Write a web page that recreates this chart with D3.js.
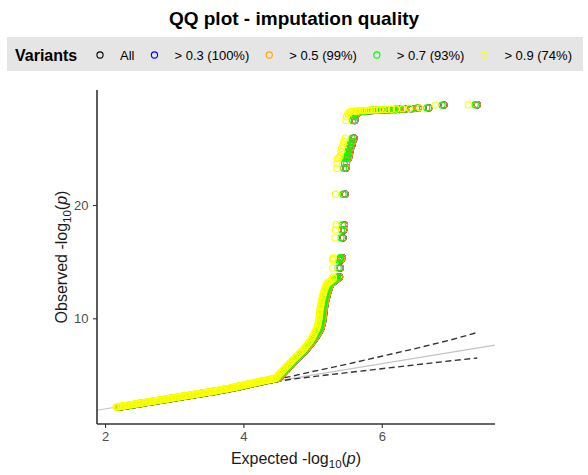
<!DOCTYPE html>
<html>
<head>
<meta charset="utf-8">
<script src="https://cdn.jsdelivr.net/npm/d3@7"></script>
<style>
  body { margin: 0; background: #fff; }
  svg { display: block; font-family: "Liberation Sans", Arial, Helvetica, sans-serif; }
</style>
</head>
<body>
<svg id="chart" width="588" height="475"></svg>
<script>
// Observed -log10(p), ascending (shared rank order for every filtered set)
const observed = [
  2.16,2.18,2.20,2.22,2.24,2.26,2.28,2.30,2.32,2.34,2.36,2.38,2.40,2.42,2.44,2.46,2.48,2.50,2.52,2.54,2.56,2.58,
  2.60,2.62,2.64,2.66,2.68,2.70,2.72,2.74,2.76,2.78,2.80,2.82,2.84,2.86,2.88,2.90,2.92,2.94,2.96,2.98,3.00,
  3.02,3.04,3.06,3.08,3.10,3.12,3.14,3.16,3.18,3.20,3.22,3.24,3.26,3.28,3.30,3.32,3.34,3.36,3.38,3.40,3.42,3.44,3.46,3.48,3.50,
  3.52,3.54,3.56,3.58,3.60,3.62,3.64,3.66,3.68,3.70,3.72,3.74,3.76,3.78,3.80,
  3.82,3.84,3.86,3.88,3.90,3.92,3.94,3.96,3.98,4.00,
  4.02,4.04,4.06,4.08,4.10, 4.12,4.14,4.16,4.18,4.20,
  4.22,4.24,4.26,4.28,4.30,4.32,4.34,4.36, 4.38,4.40,4.42,4.44,4.46,4.48,4.50,
  4.52,4.54,4.56,4.58,4.60, 4.62,4.64,4.66,4.68,4.70,
  4.80,4.89,5.01,5.13,5.25,5.36,5.48,5.60,5.72,5.84,5.95,6.06,6.18,6.30,6.42,6.54,6.66,6.78,6.90,7.02,
  7.14,7.26,7.38,7.50,7.65,7.80,7.92,8.05,8.20,8.35,8.50,8.65,8.80,8.95,9.10,9.25,9.40,9.55,9.70,9.85,
  10.00,10.15,10.30,10.45,10.60,10.75,10.90,11.05,11.20,11.35,11.50,11.65,11.80,11.95,12.10,12.25,12.40,
  12.55,12.70,12.85,12.98,13.10,13.15,13.20,13.30,13.40,13.50,
  13.65,14.45,15.15,15.25,15.35,17.10,17.80,18.25,20.95,23.25,23.70,24.10,24.15,24.35,24.70,25.00,25.30,
  25.60,25.90,27.45,27.80,28.05,28.18,28.22,28.25,28.27,28.28,28.29,28.30,28.31,28.32,28.33,28.34,28.35,
  28.36,28.37,28.38,28.39,28.40,28.41,28.42,28.43,28.45,28.47,28.50,28.55,28.58,28.82,28.85
];

// Expected -log10(p) for all variants (the >0.3 and >0.5 sets keep ~all of them and sit on the same quantiles)
const expectedAll = [
  2.20,2.22,2.24,2.26,2.28,2.30,2.32,2.34,2.36,2.38,2.40,2.42,2.44,2.46,2.48,2.50,2.52,2.54,2.56,2.58,2.60,2.62,
  2.64,2.66,2.68,2.70,2.72,2.74,2.76,2.78,2.80,2.82,2.84,2.86,2.88,2.90,2.92,2.94,2.96,2.98,3.00,3.02,3.04,
  3.06,3.08,3.10,3.12,3.14,3.16,3.18,3.20,3.22,3.24,3.26,3.28,3.30,3.32,3.34,3.36,3.38,3.40,3.42,3.44,3.46,3.48,3.50,3.52,3.54,
  3.56,3.58,3.59,3.61,3.63,3.65,3.67,3.68,3.70,3.72,3.74,3.76,3.77,3.79,3.81,
  3.83,3.84,3.86,3.87,3.89,3.91,3.92,3.94,3.95,3.97,
  3.98,4.00,4.01,4.03,4.04, 4.05,4.07,4.08,4.10,4.11,
  4.13,4.14,4.16,4.17,4.19,4.20,4.22,4.23, 4.25,4.26,4.28,4.29,4.31,4.32,4.34,
  4.36,4.37,4.39,4.40,4.42, 4.44,4.46,4.47,4.49,4.51,
  4.520,4.535,4.550,4.570,4.590,4.605,4.625,4.640,4.660,4.680,4.700,4.715,4.730,4.750,4.770,4.790,4.810,4.830,4.850,4.870,
  4.890,4.910,4.925,4.940,4.960,4.980,4.995,5.010,5.030,5.050,5.064,5.078,5.093,5.107,5.120,5.127,5.133,5.140,5.145,5.150,
  5.153,5.156,5.159,5.162,5.164,5.166,5.170,5.175,5.180,5.184,5.188,5.192,5.200,5.207,5.212,5.218,5.226,
  5.234,5.243,5.252,5.262,5.270,5.285,5.300,5.320,5.340,5.360,
  5.39,5.40,5.41,5.42,5.43,5.44,5.45,5.46,5.47,5.48,5.49,5.50,5.52,5.53,5.54,5.55,5.57,
  5.58,5.60,5.61,5.62,5.64,5.66,5.67,5.69,5.71,5.73,5.75,5.77,5.79,5.81,5.84,5.86,5.89,
  5.92,5.95,5.98,6.02,6.06,6.10,6.15,6.20,6.27,6.34,6.43,6.53,6.68,6.90,7.38
];

// Expected -log10(p) for info > 0.7
const expected07 = [
  2.18,2.20,2.22,2.24,2.26,2.28,2.30,2.32,2.34,2.36,2.38,2.40,2.42,2.44,2.46,2.48,2.50,2.52,2.54,2.56,2.58,2.60,
  2.62,2.64,2.66,2.68,2.70,2.72,2.74,2.76,2.78,2.80,2.82,2.84,2.86,2.88,2.90,2.92,2.94,2.96,2.98,3.00,3.02,
  3.04,3.06,3.08,3.10,3.12,3.14,3.16,3.18,3.20,3.22,3.24,3.26,3.28,3.30,3.32,3.34,3.36,3.38,3.40,3.42,3.44,3.46,3.48,3.50,3.52,
  3.54,3.56,3.57,3.59,3.61,3.63,3.65,3.66,3.68,3.70,3.72,3.74,3.75,3.77,3.79,
  3.81,3.82,3.84,3.85,3.87,3.89,3.90,3.92,3.93,3.95,
  3.96,3.98,3.99,4.01,4.02, 4.03,4.05,4.06,4.08,4.09,
  4.11,4.12,4.14,4.15,4.17,4.18,4.20,4.21, 4.23,4.24,4.26,4.27,4.29,4.30,4.32,
  4.34,4.35,4.37,4.38,4.40, 4.42,4.44,4.45,4.47,4.49,
  4.495,4.510,4.525,4.545,4.565,4.580,4.600,4.615,4.635,4.655,4.675,4.690,4.705,4.725,4.745,4.765,4.785,4.805,4.825,4.845,
  4.865,4.885,4.900,4.915,4.935,4.955,4.970,4.985,5.005,5.025,5.039,5.053,5.068,5.082,5.095,5.102,5.108,5.115,5.120,5.125,
  5.128,5.131,5.134,5.137,5.139,5.141,5.145,5.150,5.155,5.159,5.163,5.167,5.175,5.182,5.187,5.193,5.201,
  5.209,5.218,5.227,5.237,5.245,5.260,5.275,5.295,5.315,5.335,
  5.36,5.37,5.38,5.39,5.40,5.41,5.42,5.43,5.44,5.45,5.46,5.47,5.49,5.50,5.51,5.52,5.54,
  5.55,5.57,5.58,5.59,5.61,5.63,5.64,5.66,5.68,5.70,5.72,5.74,5.76,5.78,5.81,5.83,5.86,
  5.89,5.92,5.95,5.99,6.03,6.07,6.12,6.17,6.24,6.31,6.40,6.50,6.65,6.87,7.35
];

// Expected -log10(p) for info > 0.9
const expected09 = [
  2.16,2.18,2.20,2.22,2.24,2.26,2.28,2.30,2.32,2.34,2.36,2.38,2.40,2.42,2.44,2.46,2.48,2.50,2.52,2.54,2.56,2.58,
  2.60,2.62,2.64,2.66,2.68,2.70,2.72,2.74,2.76,2.78,2.80,2.82,2.84,2.86,2.88,2.90,2.92,2.94,2.96,2.98,3.00,
  3.02,3.04,3.06,3.08,3.10,3.12,3.14,3.16,3.18,3.20,3.22,3.24,3.26,3.28,3.30,3.32,3.34,3.36,3.38,3.40,3.42,3.44,3.46,3.48,3.50,
  3.52,3.54,3.55,3.57,3.59,3.61,3.63,3.64,3.66,3.68,3.70,3.72,3.73,3.75,3.77,
  3.79,3.80,3.82,3.83,3.85,3.87,3.88,3.90,3.91,3.93,
  3.94,3.96,3.97,3.99,4.00, 4.01,4.03,4.04,4.06,4.07,
  4.09,4.10,4.12,4.13,4.15,4.16,4.18,4.19, 4.21,4.22,4.24,4.25,4.27,4.28,4.30,
  4.32,4.33,4.35,4.36,4.38, 4.40,4.42,4.43,4.45,4.47,
  4.480,4.495,4.510,4.530,4.550,4.565,4.585,4.600,4.620,4.640,4.660,4.675,4.690,4.710,4.730,4.750,4.770,4.790,4.810,4.830,
  4.850,4.870,4.885,4.900,4.920,4.940,4.955,4.967,4.984,5.001,5.012,5.023,5.035,5.047,5.060,5.067,5.073,5.080,5.085,5.090,
  5.093,5.096,5.099,5.102,5.104,5.106,5.110,5.115,5.120,5.124,5.128,5.132,5.140,5.147,5.152,5.158,5.166,
  5.174,5.183,5.192,5.202,5.210,5.225,5.240,5.260,5.280,5.300,
  5.30,5.29,5.29,5.29,5.30,5.32,5.33,5.34,5.33,5.35,5.35,5.36,5.38,5.40,5.41,5.42,5.44,
  5.45,5.47,5.48,5.49,5.51,5.53,5.54,5.56,5.58,5.60,5.62,5.64,5.66,5.68,5.71,5.73,5.76,
  5.79,5.82,5.85,5.89,5.93,5.97,6.02,6.07,6.14,6.21,6.30,6.40,6.55,6.77,7.25
];

// Legend entries, colours and which quantile set each one uses
const seriesLabels = ["All", "> 0.3 (100%)", "> 0.5 (99%)", "> 0.7 (93%)", "> 0.9 (74%)"];
const seriesColors = ["#000000", "#0000ff", "#ffa500", "#00ff00", "#ffff00"];
const seriesExpected = [expectedAll, expectedAll, expectedAll, expected07, expected09];

// 95% confidence band around the null line
const ciExpected = [2.16, 3.00, 4.00, 4.67, 5.00, 5.50, 6.00, 6.50, 7.00, 7.38];
const ciUpper    = [2.18, 3.03, 4.10, 4.85, 5.30, 5.95, 6.65, 7.35, 8.10, 8.75];
const ciLower    = [2.14, 2.97, 3.92, 4.60, 4.85, 5.20, 5.55, 5.90, 6.25, 6.50];

const xTicks = [2, 4, 6];
const yTicks = [10, 20];

// ---------------------------------------------------------------------------
const svg = d3.select("#chart");
const panel = { left: 97, right: 495, top: 90, bottom: 424 };

const x = d3.scaleLinear().domain([1.884, 7.636]).range([panel.left, panel.right]);
const y = d3.scaleLinear().domain([0.67, 30.15]).range([panel.bottom, panel.top]);

const pointRadius = 3.1;
const pointStroke = 1.1;

// Title
svg.append("text")
  .attr("x", 294).attr("y", 25)
  .attr("text-anchor", "middle")
  .attr("font-size", 19).attr("font-weight", "bold").attr("fill", "#000")
  .text("QQ plot - imputation quality");

// Legend strip
svg.append("rect")
  .attr("x", 7).attr("y", 37).attr("width", 576).attr("height", 34)
  .attr("fill", "#e5e5e5");

const legendY = 55;
svg.append("text")
  .attr("x", 15).attr("y", legendY + 5.5)
  .attr("font-size", 16).attr("font-weight", "bold").attr("fill", "#000")
  .text("Variants");

let lx = 100;
seriesLabels.forEach((label, i) => {
  svg.append("circle")
    .attr("cx", lx).attr("cy", legendY).attr("r", pointRadius)
    .attr("fill", "none").attr("stroke", seriesColors[i]).attr("stroke-width", pointStroke);
  const t = svg.append("text")
    .attr("x", lx + 20).attr("y", legendY + 4.5)
    .attr("font-size", 13).attr("fill", "#000")
    .text(label);
  lx += 20 + t.node().getComputedTextLength() + 20;
});

// Null line y = x across the panel
const diag = x.domain();
svg.append("line")
  .attr("x1", x(diag[0])).attr("y1", y(diag[0]))
  .attr("x2", x(diag[1])).attr("y2", y(diag[1]))
  .attr("stroke", "#c4c4c4").attr("stroke-width", 1.2);

// Confidence band limits
const ciLine = vals => d3.line()
  .x((d, i) => x(ciExpected[i]))
  .y((d, i) => y(vals[i]))(vals);
[ciUpper, ciLower].forEach(vals => {
  svg.append("path")
    .attr("d", ciLine(vals))
    .attr("fill", "none").attr("stroke", "#333")
    .attr("stroke-width", 1.4).attr("stroke-dasharray", "6,3.5");
});

// Points, one layer per filter (strictest on top)
const n = d3.min([observed.length, expectedAll.length, expected07.length, expected09.length]);
const idx = d3.range(n);
seriesLabels.forEach((label, s) => {
  svg.append("g")
    .selectAll("circle")
    .data(idx)
    .join("circle")
      .attr("cx", i => x(seriesExpected[s][i]))
      .attr("cy", i => y(observed[i]))
      .attr("r", pointRadius)
      .attr("fill", "none")
      .attr("stroke", seriesColors[s])
      .attr("stroke-width", pointStroke);
});

// Axes
const axisColor = "#333";
const xAxis = svg.append("g")
  .attr("transform", `translate(0,${panel.bottom})`)
  .call(d3.axisBottom(x).tickValues(xTicks).tickSize(4).tickPadding(3.5).tickFormat(d3.format("d")));
const yAxis = svg.append("g")
  .attr("transform", `translate(${panel.left},0)`)
  .call(d3.axisLeft(y).tickValues(yTicks).tickSize(4).tickPadding(4.5).tickFormat(d3.format("d")));
[xAxis, yAxis].forEach(a => {
  a.select(".domain").attr("stroke", axisColor).attr("stroke-width", 1.6);
  a.selectAll(".tick line").attr("stroke", axisColor).attr("stroke-width", 1.1);
  a.selectAll(".tick text")
    .attr("fill", "#4d4d4d").attr("font-size", 13)
    .attr("font-family", "\"Liberation Sans\", Arial, sans-serif");
});
xAxis.select(".domain").attr("d", `M${panel.left},0H${panel.right}`);
yAxis.select(".domain").attr("d", `M0,${panel.top}V${panel.bottom}`);

// Axis titles with subscript 10 and italic p
function axisTitle(sel, word) {
  sel.append("tspan").text(word + " -log");
  sel.append("tspan").attr("font-size", 11.5).attr("dy", 4).text("10");
  sel.append("tspan").attr("dy", -4).text("(");
  sel.append("tspan").attr("font-style", "italic").text("p");
  sel.append("tspan").text(")");
}
const xTitle = svg.append("text")
  .attr("x", (panel.left + panel.right) / 2).attr("y", 464)
  .attr("text-anchor", "middle").attr("font-size", 16).attr("fill", "#1a1a1a");
axisTitle(xTitle, "Expected");

const yTitle = svg.append("text")
  .attr("transform", `translate(67,${(panel.top + panel.bottom) / 2}) rotate(-90)`)
  .attr("text-anchor", "middle").attr("font-size", 16).attr("fill", "#1a1a1a");
axisTitle(yTitle, "Observed");
</script>
</body>
</html>
